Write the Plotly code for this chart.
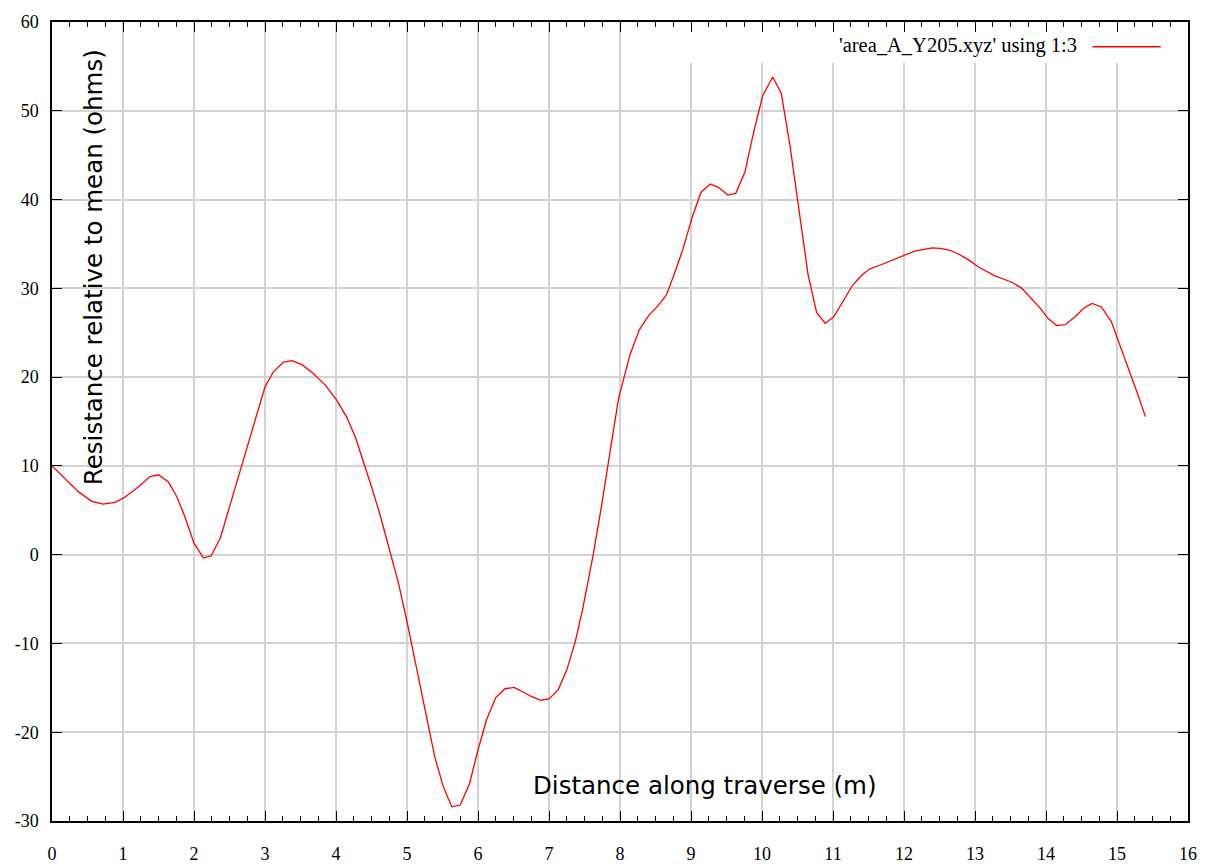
import plotly.graph_objects as go

# Distance along traverse (m)
distance = [0.00, 0.18, 0.37, 0.56, 0.72, 0.89, 1.03, 1.22, 1.38, 1.50, 1.64, 1.76, 1.87, 2.00,
            2.13, 2.24, 2.37, 2.53, 2.72, 2.88, 3.00, 3.12, 3.26, 3.38, 3.52, 3.68, 3.85, 4.01,
            4.15, 4.27, 4.38, 4.50, 4.62, 4.76, 4.88, 5.00, 5.09, 5.21, 5.30, 5.39, 5.51, 5.63,
            5.75, 5.88, 6.00, 6.12, 6.25, 6.38, 6.51, 6.63, 6.76, 6.88, 7.00, 7.13, 7.25, 7.37,
            7.48, 7.62, 7.74, 7.86, 7.98, 8.14, 8.27, 8.40, 8.53, 8.65, 8.76, 8.89, 9.02, 9.14,
            9.27, 9.39, 9.52, 9.63, 9.76, 9.88, 10.01, 10.15, 10.27, 10.39, 10.51, 10.65, 10.77,
            10.89, 11.01, 11.15, 11.28, 11.40, 11.52, 11.66, 11.78, 11.90, 12.03, 12.15, 12.28,
            12.40, 12.51, 12.64, 12.76, 12.91, 13.05, 13.16, 13.28, 13.40, 13.54, 13.66, 13.77,
            13.92, 14.03, 14.15, 14.27, 14.41, 14.53, 14.65, 14.78, 14.92, 15.04, 15.16, 15.28,
            15.40]

# Resistance relative to mean (ohms)
resistance = [10.0, 8.6, 7.1, 6.0, 5.7, 5.9, 6.5, 7.65, 8.8, 9.0, 8.2, 6.5, 4.3, 1.3,
              -0.35, -0.15, 1.85, 6.2, 11.4, 15.9, 18.9, 20.6, 21.7, 21.85, 21.4, 20.4, 19.1, 17.4,
              15.5, 13.3, 10.7, 7.65, 4.5, 0.5, -3.2, -7.55, -11.1, -15.6, -19.0, -22.75, -26.1, -28.4,
              -28.2, -25.8, -22.0, -18.6, -16.1, -15.1, -14.95, -15.5, -16.0, -16.4, -16.25, -15.2, -13.0, -9.8,
              -5.9, -0.1, 5.5, 11.6, 17.6, 22.5, 25.3, 26.9, 28.0, 29.2, 31.5, 34.5, 38.1, 40.8,
              41.75, 41.35, 40.5, 40.7, 43.1, 47.5, 51.7, 53.8, 52.0, 46.3, 39.2, 31.5, 27.25,
              26.05, 26.8, 28.7, 30.4, 31.45, 32.2, 32.6, 33.0, 33.4, 33.8, 34.2, 34.4,
              34.55, 34.5, 34.3, 33.9, 33.2, 32.4, 31.9, 31.4, 31.05, 30.6, 30.0, 29.05,
              27.75, 26.6, 25.8, 25.9, 26.8, 27.75, 28.3, 27.9, 26.25, 23.6, 21.0, 18.35,
              15.55]

x_range = [0, 16]
y_range = [-30, 60]
x_tick_step = 1
x_minor_step = 0.25
y_ticks = [-30, -20, -10, 0, 10, 20, 30, 40, 50, 60]
y_tick_labels = ["-30", "-20", "-10", "0", "10", "20", "30", "40", "50", "60"]
series_name = "'area_A_Y205.xyz' using 1:3"

fig = go.Figure()
fig.add_trace(go.Scatter(x=distance, y=resistance, mode="lines", name=series_name,
                         line=dict(color="#ff0000", width=1.3), showlegend=False))

serif = "Liberation Serif, Times New Roman, serif"
sans = "DejaVu Sans, Verdana, sans-serif"

# the page body adds an 8px offset, so the figure is 8px smaller than the window
fig.update_layout(
    width=1207, height=857,
    margin=dict(l=44, r=27, t=14, b=44),
    paper_bgcolor="white", plot_bgcolor="white",
    font=dict(family=serif, size=18, color="black"),
    xaxis=dict(range=x_range, tickmode="linear", tick0=0, dtick=x_tick_step, automargin=False,
               showgrid=True, gridcolor="#d3d3d3", gridwidth=1.5,
               showline=True, linecolor="black", linewidth=1.5, mirror="allticks",
               ticks="inside", ticklen=10, tickcolor="black", tickwidth=1.3,
               ticklabelstandoff=16,
               minor=dict(dtick=x_minor_step, tick0=0, ticks="inside", ticklen=5,
                          tickcolor="black", tickwidth=1.1, showgrid=False),
               zeroline=False, tickfont=dict(family=serif, size=18)),
    yaxis=dict(range=y_range, tickmode="array", tickvals=y_ticks, ticktext=y_tick_labels,
               automargin=False,
               showgrid=True, gridcolor="#d3d3d3", gridwidth=1.5,
               showline=True, linecolor="black", linewidth=1.5, mirror="allticks",
               ticks="inside", ticklen=10, tickcolor="black", tickwidth=1.3,
               ticklabelstandoff=8,
               zeroline=False, tickfont=dict(family=serif, size=18)),
    showlegend=False,
)

# key area blanks the vertical grid lines
fig.add_shape(type="rect", xref="x", yref="y", x0=8.5, x1=16, y0=55.4, y1=60,
              fillcolor="white", line=dict(width=0), layer="between")

# key: text then line sample
fig.add_annotation(text=series_name, xref="paper", yref="paper", x=0.904, y=0.971,
                   xanchor="right", yanchor="middle", showarrow=False,
                   font=dict(family=serif, size=20.5, color="black"))
fig.add_shape(type="line", xref="paper", yref="paper", x0=0.916, x1=0.976, y0=0.969, y1=0.969,
              line=dict(color="#ff0000", width=1.3))

# axis titles drawn inside the plot area
fig.add_annotation(text="Resistance relative to mean (ohms)", xref="paper", yref="paper",
                   x=0.036, y=0.693, xanchor="center", yanchor="middle", textangle=-90,
                   showarrow=False, font=dict(family=sans, size=24.5, color="black"))
fig.add_annotation(text="Distance along traverse (m)", xref="paper", yref="paper",
                   x=0.575, y=0.045, xanchor="center", yanchor="middle",
                   showarrow=False, font=dict(family=sans, size=24.5, color="black"))

fig.write_html("out.html")
